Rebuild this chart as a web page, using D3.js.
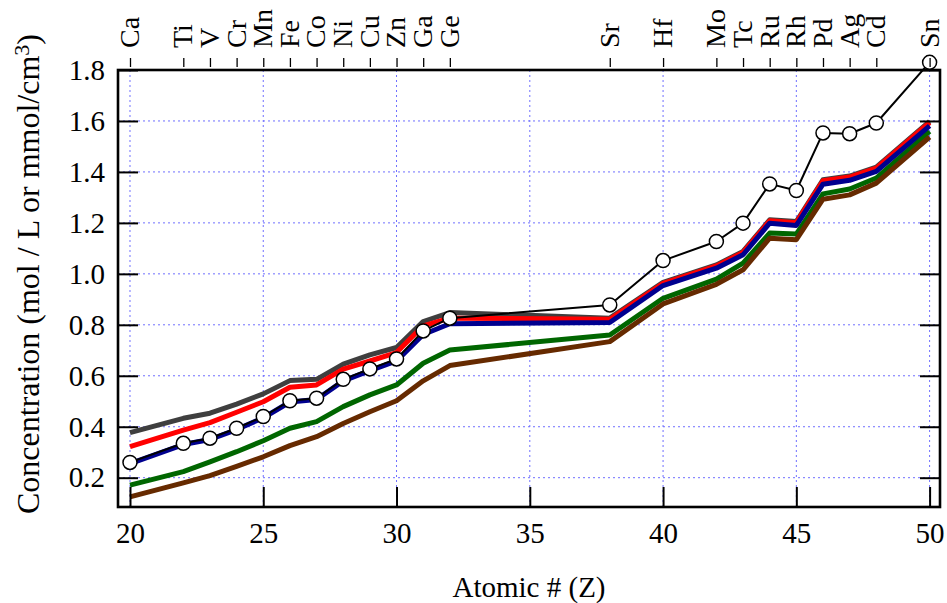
<!DOCTYPE html>
<html>
<head>
<meta charset="utf-8">
<script src="https://cdn.jsdelivr.net/npm/d3@7/dist/d3.min.js"></script>
<style>
  html, body { margin: 0; padding: 0; background: #fff; }
  svg { display: block; }
  svg text { font-family: "Liberation Serif", "Times New Roman", serif; }
</style>
</head>
<body>
<svg id="chart" width="947" height="603"></svg>
<script>
// Atomic numbers and element symbols along the top axis
const atomicNumbers = [20, 22, 23, 24, 25, 26, 27, 28, 29, 30, 31, 32, 38, 40, 42, 43, 44, 45, 46, 47, 48, 50];
const elementLabels = ["Ca", "Ti", "V", "Cr", "Mn", "Fe", "Co", "Ni", "Cu", "Zn", "Ga", "Ge",
                       "Sr", "Hf", "Mo", "Tc", "Ru", "Rh", "Pd", "Ag", "Cd", "Sn"];

// Concentration series (mol / L)
const seriesGray  = [0.377, 0.433, 0.453, 0.489, 0.529, 0.581, 0.586, 0.646, 0.682, 0.711, 0.813, 0.848,
                     0.826, 0.967, 1.035, 1.088, 1.212, 1.205, 1.369, 1.384, 1.419, 1.598];
const seriesRed   = [0.322, 0.387, 0.416, 0.457, 0.498, 0.555, 0.564, 0.626, 0.658, 0.691, 0.796, 0.826,
                     0.822, 0.963, 1.031, 1.084, 1.208, 1.201, 1.365, 1.380, 1.415, 1.594];
const seriesBlue  = [0.255, 0.330, 0.350, 0.389, 0.435, 0.497, 0.507, 0.580, 0.620, 0.658, 0.762, 0.804,
                     0.809, 0.954, 1.022, 1.075, 1.199, 1.190, 1.352, 1.367, 1.402, 1.581];
const seriesGreen = [0.171, 0.224, 0.262, 0.302, 0.345, 0.394, 0.420, 0.479, 0.525, 0.564, 0.649, 0.701,
                     0.760, 0.904, 0.979, 1.042, 1.160, 1.156, 1.314, 1.333, 1.376, 1.559];
const seriesBrown = [0.125, 0.180, 0.208, 0.244, 0.282, 0.326, 0.361, 0.413, 0.459, 0.502, 0.580, 0.640,
                     0.734, 0.882, 0.959, 1.016, 1.140, 1.134, 1.293, 1.310, 1.356, 1.537];
const seriesMeasured = [0.260, 0.335, 0.355, 0.394, 0.440, 0.502, 0.512, 0.586, 0.627, 0.666, 0.776, 0.826,
                        0.878, 1.052, 1.127, 1.199, 1.353, 1.327, 1.553, 1.550, 1.592, 1.830];

// Axis ticks
const xTicks = [20, 25, 30, 35, 40, 45, 50];
const yTicks = [0.2, 0.4, 0.6, 0.8, 1.0, 1.2, 1.4, 1.6, 1.8];

const serif = "'Liberation Serif', 'Times New Roman', serif";
const svg = d3.select("#chart");
const plotLeft = 118, plotRight = 940, plotTop = 70, plotBottom = 507;

const x = d3.scaleLinear().domain([19.55, 50.39]).range([plotLeft, plotRight]);
const y = d3.scaleLinear().domain([0.085, 1.8]).range([plotBottom, plotTop]);

// Dotted grid
const grid = svg.append("g").attr("stroke", "#6f6fff").attr("stroke-width", 1)
  .attr("stroke-dasharray", "2,3").attr("fill", "none");
grid.selectAll("line.v").data(xTicks).join("line").attr("class", "v")
  .attr("x1", d => x(d)).attr("x2", d => x(d)).attr("y1", plotTop).attr("y2", plotBottom);
grid.selectAll("line.h").data(yTicks).join("line").attr("class", "h")
  .attr("x1", plotLeft).attr("x2", plotRight).attr("y1", d => y(d)).attr("y2", d => y(d));

// Series lines
const line = d3.line().x((d, i) => x(atomicNumbers[i])).y(d => y(d));
const series = [
  { values: seriesGray,  color: "#3f3f3f", width: 5 },
  { values: seriesRed,   color: "#ff0000", width: 5 },
  { values: seriesGreen, color: "#006600", width: 5 },
  { values: seriesBrown, color: "#662a00", width: 5 },
  { values: seriesBlue,  color: "#00008f", width: 5 }
];
svg.append("g").selectAll("path").data(series).join("path")
  .attr("d", s => line(s.values))
  .attr("fill", "none")
  .attr("stroke", s => s.color)
  .attr("stroke-width", s => s.width)
  .attr("stroke-linejoin", "round");

// Frame
svg.append("rect")
  .attr("x", plotLeft).attr("y", plotTop)
  .attr("width", plotRight - plotLeft).attr("height", plotBottom - plotTop)
  .attr("fill", "none").attr("stroke", "#000").attr("stroke-width", 2.6);

// Measured values with open circles
svg.append("path")
  .attr("d", line(seriesMeasured))
  .attr("fill", "none").attr("stroke", "#000").attr("stroke-width", 2)
  .attr("stroke-linejoin", "round");
svg.append("g").selectAll("circle").data(seriesMeasured).join("circle")
  .attr("cx", (d, i) => x(atomicNumbers[i]))
  .attr("cy", d => y(d))
  .attr("r", 7)
  .attr("fill", "#fff").attr("stroke", "#000").attr("stroke-width", 1.5);

// Axes
function styleAxis(g, size) {
  g.attr("font-family", serif);
  g.select(".domain").remove();
  g.selectAll(".tick line").attr("stroke", "#000").attr("stroke-width", 2);
  g.selectAll(".tick text").attr("fill", "#000")
    .attr("font-family", serif).style("font-family", serif)
    .attr("font-size", size).style("font-size", size + "px");
}

svg.append("g").attr("transform", `translate(0,${plotBottom})`)
  .call(d3.axisBottom(x).tickValues(xTicks).tickSize(-20).tickPadding(15).tickFormat(d3.format("d")))
  .call(g => styleAxis(g, 29));

svg.append("g").attr("transform", `translate(${plotLeft},0)`)
  .call(d3.axisLeft(y).tickValues(yTicks).tickSize(-20).tickPadding(13).tickFormat(d3.format(".1f")))
  .call(g => styleAxis(g, 29));

svg.append("g").attr("transform", `translate(${plotRight},0)`)
  .call(d3.axisRight(y).tickValues(yTicks).tickSize(-20).tickFormat(""))
  .call(g => styleAxis(g, 29));

// Element symbols on top
svg.append("g").attr("transform", "translate(0,67)")
  .call(d3.axisTop(x).tickValues(atomicNumbers).tickSize(9)
    .tickFormat((d, i) => elementLabels[i]))
  .call(g => {
    styleAxis(g, 28);
    g.selectAll(".tick line").attr("stroke-width", 1.3);
    g.selectAll(".tick text")
      .attr("transform", "rotate(-90)")
      .attr("x", 19).attr("y", 0).attr("dy", "0.3em")
      .attr("text-anchor", "start");
  });

// Axis titles
svg.append("text")
  .attr("x", (plotLeft + plotRight) / 2).attr("y", 597)
  .attr("text-anchor", "middle")
  .attr("font-family", serif).style("font-size", "29px")
  .text("Atomic # (Z)");

const yTitle = svg.append("text")
  .attr("transform", "translate(39,274) rotate(-90)")
  .attr("text-anchor", "middle")
  .attr("font-family", serif).style("font-size", "32px");
yTitle.append("tspan").text("Concentration (mol / L or mmol/cm");
yTitle.append("tspan").attr("dy", "-0.45em").style("font-size", "22px").text("3");
yTitle.append("tspan").attr("dy", "0.31em").text(")");
</script>
</body>
</html>
